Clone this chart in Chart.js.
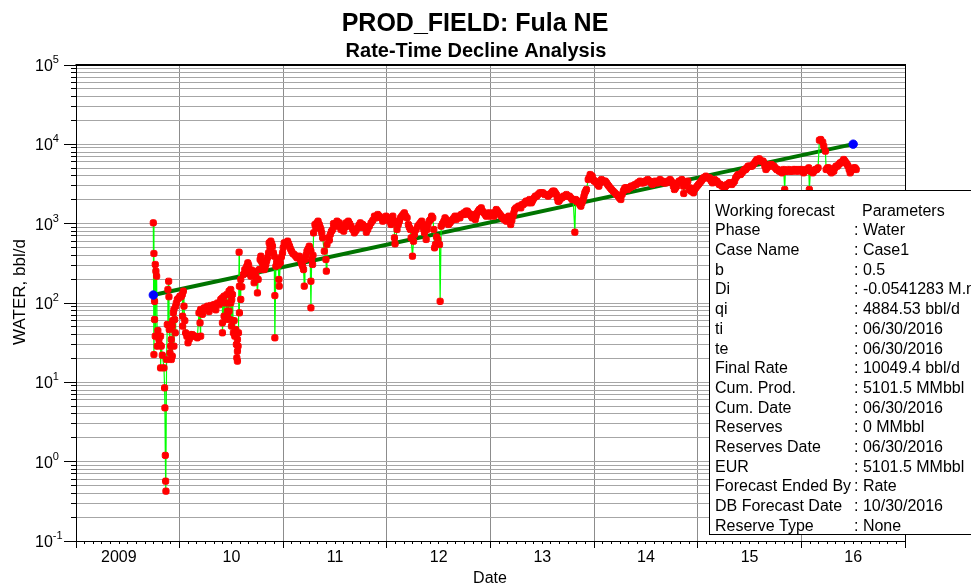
<!DOCTYPE html>
<html>
<head>
<meta charset="utf-8">
<title>PROD_FIELD: Fula NE</title>
<script src="https://cdn.jsdelivr.net/npm/chart.js@4.4.1/dist/chart.umd.min.js"></script>
<style>
  html, body { margin: 0; padding: 0; background: #ffffff; }
  #wrap { width: 971px; height: 588px; position: relative; overflow: hidden; }
  canvas { display: block; }
</style>
</head>
<body>
<div id="wrap"><canvas id="chart" width="971" height="588"></canvas></div>
<script>
// ---- Production history: water rate (bbl/d) against decimal year ----
const prodYear = [
  2009.746,2009.752,2009.752,2009.758,2009.758,2009.765,2009.765,2009.771,2009.778,2009.784,
  2009.800,2009.816,2009.816,2009.823,2009.849,2009.855,2009.858,2009.862,2009.865,2009.868,
  2009.874,2009.881,2009.887,2009.894,2009.900,2009.907,2009.913,2009.920,2009.920,2009.929,
  2009.929,2009.939,2009.945,2009.945,2009.952,2009.958,2009.962,2009.978,
  2010.003,2010.026,2010.029,2010.029,2010.036,2010.042,2010.058,2010.081,2010.107,2010.139,
  2010.171,2010.187,2010.197,2010.203,2010.203,2010.220,2010.236,2010.268,2010.284,2010.300,
  2010.332,2010.349,2010.365,2010.397,2010.413,2010.413,2010.413,2010.429,2010.429,2010.445,
  2010.455,2010.461,2010.461,2010.477,2010.477,2010.487,2010.493,2010.493,2010.500,2010.510,
  2010.519,2010.532,2010.542,2010.552,2010.558,2010.558,2010.558,2010.564,2010.568,2010.574,
  2010.577,2010.577,2010.590,2010.590,2010.616,2010.629,2010.648,2010.658,2010.674,2010.687,
  2010.703,2010.719,2010.735,2010.751,2010.758,2010.768,2010.777,2010.784,2010.800,2010.816,
  2010.832,2010.848,2010.858,2010.864,2010.880,2010.896,2010.913,2010.919,2010.919,2010.929,
  2010.945,2010.958,2010.961,2010.971,2010.993,
  2011.009,2011.042,2011.061,2011.080,2011.106,2011.132,2011.154,2011.171,2011.187,2011.196,
  2011.203,2011.209,2011.229,2011.251,2011.267,2011.267,2011.267,2011.274,2011.283,2011.293,
  2011.306,2011.325,2011.348,2011.364,2011.380,2011.396,2011.412,2011.416,2011.422,2011.435,
  2011.454,2011.477,2011.493,2011.519,2011.541,2011.557,2011.583,2011.606,2011.628,2011.654,
  2011.686,2011.719,2011.744,2011.767,2011.790,2011.815,2011.848,2011.880,2011.912,2011.944,
  2011.976,2011.992,
  2012.024,2012.040,2012.057,2012.073,2012.073,2012.079,2012.098,2012.121,2012.144,2012.169,
  2012.195,2012.208,2012.227,2012.234,2012.247,2012.266,2012.298,2012.324,2012.347,2012.363,
  2012.379,2012.395,2012.421,2012.443,2012.453,2012.460,2012.469,2012.479,2012.492,2012.508,
  2012.514,2012.524,2012.550,2012.572,2012.595,2012.621,2012.647,2012.669,2012.692,2012.717,
  2012.743,2012.766,2012.788,2012.814,2012.834,2012.853,2012.872,2012.892,2012.911,2012.937,
  2012.959,2012.982,
  2013.008,2013.033,2013.056,2013.079,2013.104,2013.130,2013.153,2013.175,2013.195,2013.217,
  2013.233,2013.259,2013.282,2013.304,2013.330,2013.356,2013.378,2013.395,2013.411,2013.433,
  2013.459,2013.491,2013.523,2013.556,2013.588,2013.614,2013.636,2013.652,2013.669,2013.691,
  2013.717,2013.749,2013.775,2013.798,2013.814,2013.830,2013.852,2013.872,2013.894,2013.910,
  2013.926,2013.943,2013.962,2013.981,
  2014.001,2014.023,2014.046,2014.071,2014.097,2014.120,2014.142,2014.168,2014.200,2014.233,
  2014.258,2014.282,2014.298,2014.323,2014.346,2014.369,2014.394,2014.420,2014.443,2014.465,
  2014.491,2014.517,2014.539,2014.562,2014.588,2014.614,2014.636,2014.659,2014.685,2014.710,
  2014.733,2014.755,2014.775,2014.797,2014.820,2014.846,2014.862,2014.865,2014.878,2014.904,
  2014.917,2014.936,2014.959,2014.981,
  2015.007,2015.033,2015.055,2015.078,2015.104,2015.123,2015.142,2015.162,2015.184,2015.207,
  2015.233,2015.258,2015.281,2015.304,2015.329,2015.355,2015.378,2015.400,2015.426,2015.452,
  2015.474,2015.497,2015.523,2015.549,2015.571,2015.594,2015.620,2015.639,2015.658,2015.678,
  2015.700,2015.723,2015.748,2015.774,2015.797,2015.813,2015.829,2015.839,2015.852,2015.877,
  2015.903,2015.926,2015.948,2015.974,
  2016.000,2016.022,2016.045,2016.071,2016.077,2016.087,2016.110,2016.135,2016.161,2016.174,
  2016.187,2016.206,2016.216,2016.232,2016.239,2016.264,2016.290,2016.313,2016.335,2016.361,
  2016.387,2016.409,2016.432,2016.451,2016.471,2016.484,2016.506,2016.529
];
const waterRate = [
  1024,421,22.4,105,61.9,306,38.2,252,218,28.6,
  34.7,38.2,15.2,28.6,15.2,8.52,4.77,1.20,0.568,0.425,
  19.4,53.6,148,188,46.3,23.5,28.6,34.7,19.4,51.1,
  21.4,75.2,82.8,28.6,61.9,42.1,91.2,111,
  122,128,68.2,51.1,141,91.2,42.1,31.5,40.1,38.2,
  36.4,75.2,56.2,38.2,82.8,72.0,86.9,91.2,78.0,93.0,
  95.7,82.0,100,111,116,56.2,42.1,122,68.2,61.9,
  128,68.2,78.9,141,78.9,61.9,148,100,51.1,128,
  42.1,38.2,46.3,20.4,34.7,24.7,18.5,28.6,42.1,437,
  75.2,163,111,198,229,264,291,321,264,218,
  240,180,218,134,198,264,353,389,321,264,
  306,371,429,573,602,520,389,124,36.4,291,
  353,198,163,321,429,
  573,602,520,450,409,371,389,337,291,264,
  163,353,450,520,450,188,86.9,353,306,766,
  976,1024,976,844,663,450,353,252,546,663,
  730,844,930,1075,1024,844,804,1024,1075,930,
  766,886,1024,976,886,844,1024,1243,1305,1184,
  1128,1243,
  1075,976,1243,1024,663,557,844,1075,1243,1369,
  1184,976,844,663,389,730,930,1024,976,766,
  632,976,1128,1184,844,496,546,682,632,546,
  105,930,1075,1128,976,1075,1184,1128,1243,1305,
  1369,1437,1369,1243,1305,1128,1369,1508,1583,1369,
  1243,1369,
  1305,1243,1508,1369,1243,1128,1075,1243,976,1243,
  1508,1583,1661,1744,1830,1921,2016,1830,2016,2221,
  2331,2447,2331,2221,2447,2568,2331,1921,2016,2116,
  2221,2221,2116,2016,781,1921,1830,1661,2016,2447,
  2696,3602,4166,3968,
  3432,3270,2969,3602,3432,3270,2969,2696,2447,2221,
  2016,2568,2829,2696,2829,2969,3116,3270,3433,3270,
  3433,3603,3433,3116,3433,3270,3603,3433,3270,3433,
  3603,3270,2696,2969,3433,3603,2969,2400,3270,3433,
  2696,2568,2447,2829,
  3116,3433,3782,3969,3782,3603,3270,3603,3433,3116,
  2969,2829,3116,3270,3116,3433,3969,4166,4372,4817,
  5055,5306,5306,5845,6440,6566,6134,5845,4817,5306,
  5569,5306,5055,4817,4589,4372,4817,2696,4589,4817,
  4589,4817,4589,4589,
  4817,4372,4817,5055,2696,4589,4372,4817,5055,11285,
  11505,10650,9483,8199,4817,5055,4372,4589,5306,5569,
  5845,6440,5845,5306,4372,4817,5055,4817
];

// Further readings inside the dense part of the record
const bandYear = [
  2009.790,2009.806,2009.833,2009.897,2009.933,2009.968,2009.990,2010.015,2010.050,2010.070,
  2010.094,2010.123,2010.155,2010.212,2010.252,2010.316,2010.381,2010.405,2010.437,2010.470,
  2010.503,2010.526,2010.548,2010.600,2010.640,2010.666,2010.695,2010.727,2010.743,2010.792,
  2010.808,2010.824,2010.840,2010.872,2010.888,2010.905,2010.937,2010.951,2010.982,2011.000,
  2011.025,2011.051,2011.070,2011.093,2011.119,2011.143,2011.162,2011.178,2011.219,2011.240,
  2011.259,2011.287,2011.315,2011.336,2011.356,2011.372,2011.445,2011.465,2011.485,2011.506,
  2011.530,2011.570,2011.595,2011.617,2011.641,2011.670,2011.702,2011.731,2011.755,2011.778,
  2011.802,2011.831,2011.864,2011.896,2011.928,2011.960,2012.008,2012.032,2012.048,2012.065,
  2012.110,2012.132,2012.156,2012.182,2012.217,2012.257,2012.282,2012.311,2012.336,2012.355,
  2012.387,2012.408,2012.432,2012.537,2012.561,2012.584,2012.608,2012.634,2012.658,2012.680,
  2012.705,2012.730,2012.755,2012.777,2012.801,2012.824,2012.844,2012.862,2012.882,2012.902,
  2012.924,2012.948,2012.970,2012.995,2013.020,2013.045,2013.068,2013.092,2013.117,2013.142,
  2013.164,2013.185,2013.206,2013.225,2013.246,2013.270,2013.293,2013.317,2013.343,2013.367,
  2013.387,2013.403,2013.422,2013.446,2013.475,2013.507,2013.540,2013.572,2013.601,2013.625,
  2013.644,2013.660,2013.680,2013.704,2013.733,2013.762,2013.787,2013.822,2013.841,2013.862,
  2013.883,2013.902,2013.918,2013.952,2013.972,2013.991,2014.012,2014.035,2014.058,2014.084,
  2014.108,2014.131,2014.155,2014.184,2014.216,2014.245,2014.270,2014.290,2014.310,2014.334,
  2014.357,2014.381,2014.407,2014.431,2014.454,2014.478,2014.504,2014.528,2014.550,2014.575,
  2014.601,2014.625,2014.647,2014.672,2014.697,2014.722,2014.744,2014.765,2014.786,2014.808,
  2014.833,2014.891,2014.926,2014.948,2014.970,2014.994,2015.020,2015.044,2015.066,2015.091,
  2015.114,2015.132,2015.152,2015.173,2015.196,2015.220,2015.245,2015.270,2015.292,2015.316,
  2015.342,2015.366,2015.389,2015.413,2015.439,2015.463,2015.486,2015.510,2015.536,2015.560,
  2015.582,2015.607,2015.630,2015.648,2015.668,2015.689,2015.712,2015.735,2015.761,2015.785,
  2015.805,2015.821,2015.846,2015.865,2015.890,2015.914,2015.937,2015.961,2015.987,2016.011,
  2016.033,2016.058,2016.098,2016.122,2016.148,2016.252,2016.277,2016.302,2016.324,2016.348,
  2016.374,2016.398,2016.420,2016.442,2016.461,2016.478,2016.495,2016.518
];
const bandRate = [
  45,30,22,120,60,100,115,120,60,38,
  35,40,38,80,84,86,95,105,100,100,
  110,60,30,160,250,300,260,250,200,330,
  290,280,340,500,560,430,330,300,380,500,
  560,560,480,420,390,380,360,310,400,480,
  480,400,880,1075,900,760,620,800,1000,960,
  930,930,900,930,1000,844,820,960,900,930,
  780,930,1100,1184,1243,1075,1184,1128,1128,1100,
  976,1184,1305,1243,900,600,844,976,1075,844,
  844,1075,1243,1000,1184,1075,1024,1128,1243,1184,
  1184,1305,1305,1437,1305,1184,1243,1243,1437,1437,
  1437,1305,1305,1243,1369,1369,1437,1305,1184,1184,
  1128,1128,1100,1369,1583,1661,1583,1744,1921,1830,
  1921,1921,2116,2221,2447,2447,2331,2331,2568,2447,
  2116,1921,2116,2221,2331,2221,2016,2016,1921,1744,
  1830,2221,2568,3800,4000,3602,3432,3100,3270,3432,
  3432,3100,2829,2568,2331,2100,2331,2696,2829,2829,
  2969,3000,3116,3270,3270,3270,3433,3433,3270,3270,
  3270,3433,3433,3270,3270,3433,3433,2969,2829,3270,
  3433,3270,2829,2568,2696,2969,3270,3603,3782,3782,
  3782,3433,3433,3433,3270,3116,2969,2969,3116,3270,
  3270,3782,4166,4166,4589,4817,5306,5306,5569,6134,
  6440,6134,6134,5306,5055,5306,5569,5306,4817,4589,
  4589,4589,4589,4589,4589,4589,4817,4817,4817,4589,
  4589,4817,4589,4589,4817,5055,4589,4589,5055,5306,
  5845,6134,6134,5569,4817,4589,4817,5055
];

// ---- Working forecast (hyperbolic, b = 0.5) from its start to ti ----
const forecastYear = [2009.746, 2016.5];
const forecastRate = [126, 10049.4];

// Forecast anchor points (start and final rate)
const anchorYear = [2009.746, 2016.5];
const anchorRate = [126, 10049.4];

// ---- Axis definitions ----
const yearStarts = [2009, 2010, 2011, 2012, 2013, 2014, 2015, 2016, 2017];
const yearLabels = ['2009', '10', '11', '12', '13', '14', '15', '16'];
const decadeExponents = [-1, 0, 1, 2, 3, 4, 5];

// ---- Text ----
const titleText = 'PROD_FIELD: Fula NE';
const subtitleText = 'Rate-Time Decline Analysis';
const yTitle = 'WATER, bbl/d';
const xTitle = 'Date';
const paramHeader = ['Working forecast', 'Parameters'];
const paramNames = ['Phase', 'Case Name', 'b', 'Di', 'qi', 'ti', 'te', 'Final Rate',
  'Cum. Prod.', 'Cum. Date', 'Reserves', 'Reserves Date', 'EUR',
  'Forecast Ended By', 'DB Forecast Date', 'Reserve Type'];
const paramValues = ['Water', 'Case1', '0.5', '-0.0541283 M.n.', '4884.53 bbl/d',
  '06/30/2016', '06/30/2016', '10049.4 bbl/d', '5101.5 MMbbl', '06/30/2016',
  '0 MMbbl', '06/30/2016', '5101.5 MMbbl', 'Rate', '10/30/2016', 'None'];

const FONT = '"Liberation Sans", Arial, Helvetica, sans-serif';

// Full record in time order
const history = prodYear.map((t, i) => ({ x: t, y: waterRate[i] }))
  .concat(bandYear.map((t, i) => ({ x: t, y: bandRate[i] })))
  .sort((p, q) => p.x - q.x);

function crisp(v) { return Math.round(v - 0.5) + 0.5; }

// Frame, tick marks, labels, titles and the parameter box
const decorations = {
  id: 'decorations',
  afterDraw(chart) {
    const { ctx, chartArea: a, scales: { x, y } } = chart;
    ctx.save();

    // top and right frame
    ctx.strokeStyle = '#000';
    ctx.lineWidth = 2;
    ctx.beginPath();
    ctx.moveTo(a.left - 0.5, a.top);
    ctx.lineTo(a.right + 1, a.top);
    ctx.stroke();
    ctx.lineWidth = 1;
    ctx.beginPath();
    ctx.moveTo(crisp(a.right), a.top);
    ctx.lineTo(crisp(a.right), a.bottom);
    ctx.stroke();

    // y tick marks: long at decades, short at 2..9
    ctx.strokeStyle = '#000';
    ctx.lineWidth = 1;
    ctx.beginPath();
    decadeExponents.forEach(e => {
      const py = crisp(y.getPixelForValue(Math.pow(10, e)));
      ctx.moveTo(a.left - 12, py); ctx.lineTo(a.left, py);
      if (e < 5) {
        for (let m = 2; m <= 9; m++) {
          const my = crisp(y.getPixelForValue(m * Math.pow(10, e)));
          ctx.moveTo(a.left - 5, my); ctx.lineTo(a.left, my);
        }
      }
    });
    ctx.stroke();

    // x tick marks: long at year starts, short monthly
    ctx.beginPath();
    yearStarts.forEach((yr, i) => {
      const px = crisp(x.getPixelForValue(yr));
      ctx.moveTo(px, a.bottom); ctx.lineTo(px, a.bottom + 7);
      if (i < yearStarts.length - 1) {
        for (let m = 1; m < 12; m++) {
          const mx = crisp(x.getPixelForValue(yr + m / 12));
          ctx.moveTo(mx, a.bottom); ctx.lineTo(mx, a.bottom + 3);
        }
      }
    });
    ctx.stroke();

    // y tick labels: 10 with a raised exponent
    ctx.fillStyle = '#000';
    ctx.textAlign = 'left';
    ctx.textBaseline = 'alphabetic';
    decadeExponents.forEach(e => {
      const py = y.getPixelForValue(Math.pow(10, e));
      ctx.font = '16px ' + FONT;
      ctx.fillText('10', 35, py + 6);
      const w = ctx.measureText('10').width;
      ctx.font = '11px ' + FONT;
      ctx.fillText(String(e), 35 + w, py - 2);
    });

    // x tick labels centred in each year
    ctx.font = '16px ' + FONT;
    ctx.textAlign = 'center';
    ctx.textBaseline = 'middle';
    yearLabels.forEach((lab, i) => {
      let px = x.getPixelForValue(yearStarts[i] + 0.5);
      if (i === 0) px -= 9;
      ctx.fillText(lab, px, 558);
    });

    // axis titles
    ctx.fillText(xTitle, 490, 579);
    ctx.save();
    ctx.translate(25, 292);
    ctx.rotate(-Math.PI / 2);
    ctx.font = '17px ' + FONT;
    ctx.textBaseline = 'alphabetic';
    ctx.fillText(yTitle, 0, 0);
    ctx.restore();

    // chart titles
    ctx.textBaseline = 'alphabetic';
    ctx.font = 'bold 25px ' + FONT;
    ctx.fillText(titleText, 475, 31);
    ctx.font = 'bold 20px ' + FONT;
    ctx.fillText(subtitleText, 476, 57);

    // parameter box
    const bx = 709.5, by = 190.5, bb = 534.5;
    ctx.fillStyle = '#fff';
    ctx.fillRect(bx, by, 400, bb - by);
    ctx.strokeStyle = '#000';
    ctx.lineWidth = 1;
    ctx.strokeRect(bx, by, 400, bb - by);
    ctx.fillStyle = '#000';
    ctx.font = '16px ' + FONT;
    ctx.textAlign = 'left';
    const row0 = 215.7, step = 19.69;
    ctx.fillText(paramHeader[0], 715, row0);
    ctx.fillText(paramHeader[1], 862, row0);
    paramNames.forEach((n, i) => {
      const ry = row0 + (i + 1) * step;
      ctx.fillText(n, 715, ry);
      ctx.fillText(': ' + paramValues[i], 854, ry);
    });

    ctx.restore();
  }
};

const ctx = document.getElementById('chart').getContext('2d');
new Chart(ctx, {
  type: 'line',
  data: {
    datasets: [
      {
        label: 'Forecast anchors',
        data: anchorYear.map((v, i) => ({ x: v, y: anchorRate[i] })),
        showLine: false,
        pointStyle: 'circle',
        pointRadius: 4.2,
        pointBackgroundColor: '#0000ff',
        pointBorderColor: '#0000ff',
        pointBorderWidth: 1,
        order: 0
      },
      {
        label: 'Water',
        data: history,
        borderColor: '#00ff00',
        borderWidth: 1.2,
        pointStyle: 'rectRounded',
        pointRadius: 3.6,
        pointBackgroundColor: '#ff0000',
        pointBorderColor: '#ff0000',
        pointBorderWidth: 1,
        tension: 0,
        order: 1
      },
      {
        label: 'Working forecast',
        data: forecastYear.map((v, i) => ({ x: v, y: forecastRate[i] })),
        borderColor: '#007400',
        borderWidth: 4,
        pointRadius: 0,
        tension: 0,
        order: 2
      }
    ]
  },
  options: {
    responsive: false,
    animation: false,
    events: [],
    layout: { padding: { top: 65, right: 66, left: 0, bottom: 0 } },
    plugins: {
      legend: { display: false },
      title: { display: false },
      tooltip: { enabled: false }
    },
    scales: {
      x: {
        type: 'linear',
        min: 2009,
        max: 2017,
        afterFit(s) { s.height = 47; },
        afterBuildTicks(s) { s.ticks = yearStarts.map(v => ({ value: v })); },
        ticks: { display: false },
        grid: { color: '#8c8c8c', lineWidth: 1, drawTicks: false },
        border: { display: true, color: '#000', width: 1 }
      },
      y: {
        type: 'logarithmic',
        min: 0.1,
        max: 100000,
        afterFit(s) { s.width = 76; },
        afterBuildTicks(s) {
          const t = [];
          decadeExponents.forEach(e => {
            const base = Math.pow(10, e);
            if (e < 5) { for (let m = 1; m <= 9; m++) t.push({ value: m * base }); }
            else t.push({ value: base });
          });
          s.ticks = t;
        },
        ticks: { display: false },
        grid: { color: '#a6a6a6', lineWidth: 1, drawTicks: false },
        border: { display: true, color: '#000', width: 1 }
      }
    }
  },
  plugins: [decorations]
});
</script>
</body>
</html>
